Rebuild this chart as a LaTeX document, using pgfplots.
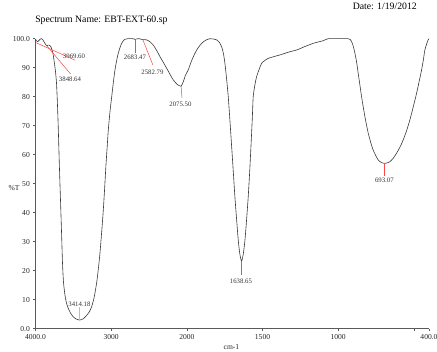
\documentclass[border=0pt]{standalone}
\usepackage{pgfplots}
\pgfplotsset{compat=1.18}
\usepackage{fontspec}
\setmainfont{Liberation Serif}
\definecolor{curve}{RGB}{55,55,55}
\definecolor{peak}{RGB}{250,70,70}
\definecolor{peaklight}{RGB}{250,160,160}
\definecolor{axgray}{RGB}{90,90,90}
\begin{document}
\begin{tikzpicture}[x=1bp,y=1bp]
\path[use as bounding box] (-35.5,-22.3) rectangle (401.5,328.7);
\begin{axis}[
  at={(0,0)}, anchor=south west,
  scale only axis, width=393.5bp, height=290bp,
  xmin=0, xmax=5200, ymin=0, ymax=100,
  axis x line=bottom, axis y line=left,
  axis line style={-, draw=axgray, line width=0.6pt},
  tick align=outside, major tick length=2.2pt,
  tick style={draw=axgray, line width=0.5pt},
  xtick={0,1000,2000,3000,4000,5000,5200},
  xticklabels={4000.0,3000,2000,1500,1000,,400.0},
  ytick={0,10,20,30,40,50,60,70,80,90,100},
  yticklabels={0.0,10,20,30,40,50,60,70,80,90,100.0},
  ticklabel style={font=\fontsize{7.6}{8}\selectfont, text=black!85},
  /pgf/number format/assume math mode=true,
  x filter/.expression={x>=2000 ? 4000-x : 6000-2*x},
  clip=false,
]
\addplot[curve, line width=0.6pt, smooth, tension=0.4] coordinates {
(4000,99.8) (3990,99.4) (3980,99.1) (3969.6,99.0) (3955,99.4) (3935,99.9) (3918,100)
(3900,99.5) (3880,98.6) (3860,97.8) (3848.6,97.6) (3835,97.8) (3820,97.8) (3805,97.5)
(3793,97.0) (3770,95.0) (3750,91.6) (3735,88.5) (3722,84.5) (3712,78.8) (3700,70)
(3683,55) (3668,43) (3654,31.7) (3643,22.5) (3630,16.0) (3610,11.5) (3590,8.8)
(3567,7.0) (3535,5.3) (3501,4.1) (3460,3.3) (3414.18,3.0) (3370,3.4) (3324,4.6)
(3290,5.8) (3258,7.6) (3225,10.8) (3192,15.8) (3170,20.5) (3148,26.1) (3125,33.5)
(3104,40.9) (3085,49) (3069,56.4) (3052,63) (3038,68.5) (3015,75) (2993,80)
(2970,85.2) (2950,89.2) (2925,92.8) (2906,95) (2880,97.2) (2861,98.4) (2840,99.3)
(2818,99.8) (2780,100) (2752,100) (2720,100) (2695,99.9) (2683.47,99.7) (2670,99.9)
(2630,100) (2600,99.8) (2582.79,99.6) (2565,99.7) (2532,99.6) (2490,99.0) (2444,97.8)
(2400,96.0) (2355,93.8) (2310,91.8) (2267,89.8) (2220,87.6) (2180,85.8) (2130,84.3)
(2100,83.8) (2075.5,83.6) (2045,85.3) (2020,87.3) (1991,89.2) (1970,92.2) (1946.5,95)
(1925,96.9) (1902,98.4) (1875,99.5) (1847.5,100) (1825,99.9) (1803,99.6) (1785,98.7)
(1770,97.2) (1758,94.8) (1748.5,91.5) (1738,86.5) (1726.5,80) (1715,71.5) (1704,62.8)
(1693,54) (1682.5,45.5) (1671,37.5) (1660.5,30.6) (1650,25.8) (1638.65,23.3) (1627,25.8)
(1616,30.6) (1605,37.8) (1594.5,45.5) (1585,54) (1576.5,62.8) (1568,72) (1561.5,80)
(1550,84.2) (1539,86.9) (1522,89.5) (1506,91.5) (1485,92.5) (1462.5,93.2) (1420,93.9)
(1385,94.4) (1350,95.0) (1319,95.5) (1275,96.1) (1220,97.3) (1165,98.4) (1130,98.9)
(1099,99.3) (1066,100) (1000,100) (934,100) (920,99.7) (911.5,99) (900,97.3)
(889.5,95) (878,91.8) (868,88.1) (856,83.8) (845.5,80) (834,76.3) (823.5,73.1)
(812,70) (801.5,67.4) (785,64.2) (769,61.6) (752,59.7) (736,58.2) (715,57.3)
(693.07,57.0) (675,57.2) (658.5,57.6) (636,58.8) (614.5,60.5) (592,62.6) (570.5,65.1)
(548,68.3) (526.5,72) (504,76.5) (482,81.2) (465,85.3) (449,89.2) (437,92.8)
(427.5,96.1) (415,98.3) (405.5,99.6) (400,100)
};
% peak pointer lines
\addplot[peak, line width=0.5pt] coordinates {(3992,98.6) (3478,92.6)};
\addplot[peak, line width=0.5pt] coordinates {(3848.64,97.5) (3535,87.8)};
\addplot[peak, line width=0.5pt] coordinates {(2683.47,99.8) (2683.47,94.9)};
\addplot[peak, line width=0.5pt] coordinates {(2582.79,99.7) (2448,90.9)};
\addplot[peak, line width=0.5pt] coordinates {(2075.5,83.6) (2065,79.6)};
\addplot[peaklight, line width=1pt] coordinates {(3414.18,3.0) (3414.18,7.5)};
\addplot[peak, line width=0.5pt] coordinates {(1638.65,23.2) (1638.65,18.5)};
\addplot[peak, line width=0.6pt] coordinates {(693.07,57) (693.07,52.6)};
% peak labels
\begin{scope}[every node/.style={font=\fontsize{6.8}{7}\selectfont, inner sep=0pt, text=black!80}]
\node at (axis cs:508.6,93.9) {3969.60};
\node at (axis cs:455.7,85.9) {3848.64};
\node at (axis cs:1314.4,93.7) {2683.47};
\node at (axis cs:1545.6,88.5) {2582.79};
\node at (axis cs:1915.5,77.5) {2075.50};
\node at (axis cs:581,8.5) {3414.18};
\node at (axis cs:2714.7,16.3) {1638.65};
\node at (axis cs:4610,51.3) {693.07};
\end{scope}
% titles
\node[font=\fontsize{7.6}{8}\selectfont, inner sep=0pt, text=black!85] at (axis description cs:-0.0546,0.485) {\%T};
\node[font=\fontsize{7.6}{8}\selectfont, inner sep=0pt, text=black!85] at (axis description cs:0.498,-0.063) {cm-1};
\node[font=\fontsize{9.8}{11}\selectfont, inner sep=0pt, anchor=west] at (axis description cs:-0.001,1.0645) {Spectrum Name: EBT-EXT-60.sp};
\node[font=\fontsize{9.8}{11}\selectfont, inner sep=0pt, anchor=east] at (axis description cs:0.9695,1.111) {Date: 1/19/2012};
\end{axis}
\end{tikzpicture}
\end{document}
